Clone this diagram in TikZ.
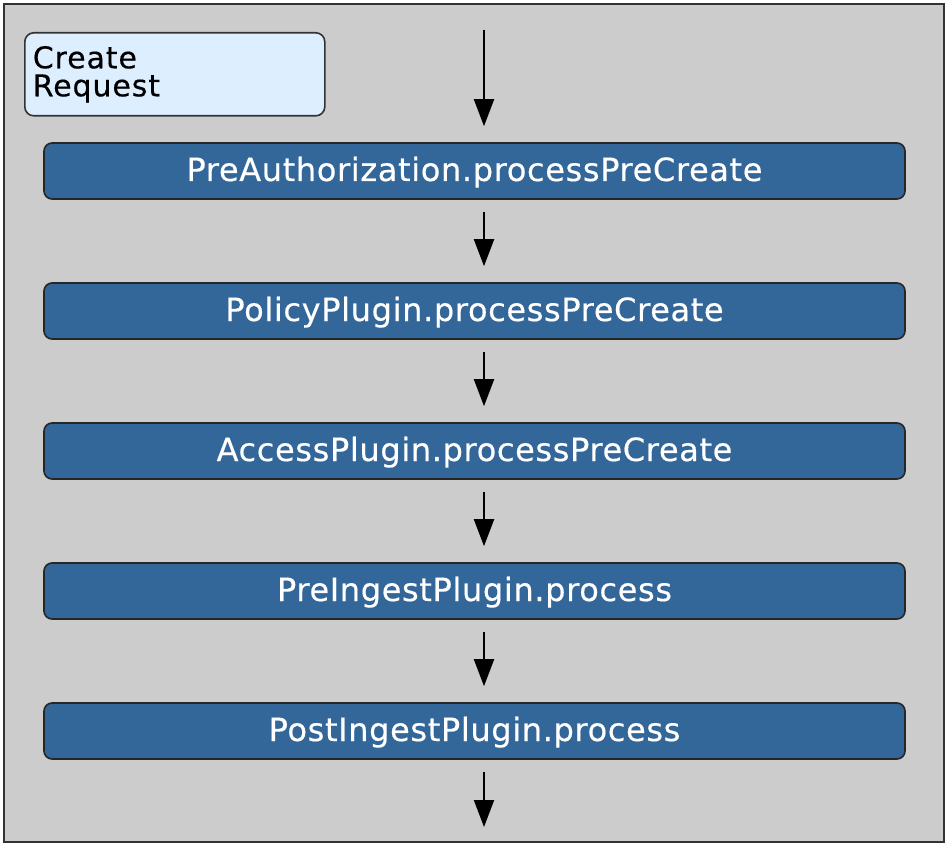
\documentclass[tikz,border=0pt]{standalone}
\usepackage{fontspec}
\setmainfont{DejaVu Sans}
\usepackage{xcolor}
\usetikzlibrary{arrows.meta,positioning,calc}

\definecolor{framegray}{HTML}{CCCCCC}
\definecolor{stepblue}{HTML}{336699}
\definecolor{notefill}{HTML}{DDEEFF}

\begin{document}
\begin{tikzpicture}[
    x=1pt,y=-1pt,
    >={Triangle[width=20pt,length=27pt]},
    flow/.style={->,line width=2pt,draw=black},
    plugin/.style={draw=black!85,line width=1.6pt,fill=stepblue,
      rounded corners=8pt,minimum width=861pt,minimum height=56pt,
      inner sep=0pt,text=white,text height=26pt,text depth=6pt,
      font=\fontsize{32}{36}\selectfont\addfontfeature{LetterSpace=2,FakeBold=0.4}},
    request/.style={draw=black!80,line width=1.6pt,fill=notefill,
      rounded corners=9pt,minimum width=300pt,minimum height=83pt,
      inner sep=8pt,align=left,text width=284pt,
      font=\fontsize{30}{28}\selectfont\addfontfeature{LetterSpace=3,FakeBold=0.4}}
  ]
    \useasboundingbox (0,0) rectangle (948,845);
    % outer frame
    \draw[draw=black!80,line width=2pt,fill=framegray] (4,4) rectangle (944,842);

    % request note
    \node[request,anchor=north west] (req) at (24,32) {Create\\Request};

    % plugin chain
    \node[plugin] (preauth) at (474.5,171) {PreAuthorization.processPreCreate};
    \node[plugin,below=82.4pt of preauth] (policy) {PolicyPlugin.processPreCreate};
    \node[plugin,below=82.4pt of policy] (access) {AccessPlugin.processPreCreate};
    \node[plugin,below=82.4pt of access] (preingest) {PreIngestPlugin.process};
    \node[plugin,below=82.4pt of preingest] (postingest) {PostIngestPlugin.process};

    \coordinate (start) at (484,30);
    \coordinate (finish) at (484,827);

    \draw[flow] (start) -- ($(preauth.north)+(9.5,-16)$);
    \foreach \a/\b in {preauth/policy,policy/access,access/preingest,preingest/postingest}
      \draw[flow] ($(\a.south)+(9.5,12)$) -- ($(\b.north)+(9.5,-16)$);
    \draw[flow] ($(postingest.south)+(9.5,12)$) -- (finish);
\end{tikzpicture}
\end{document}
